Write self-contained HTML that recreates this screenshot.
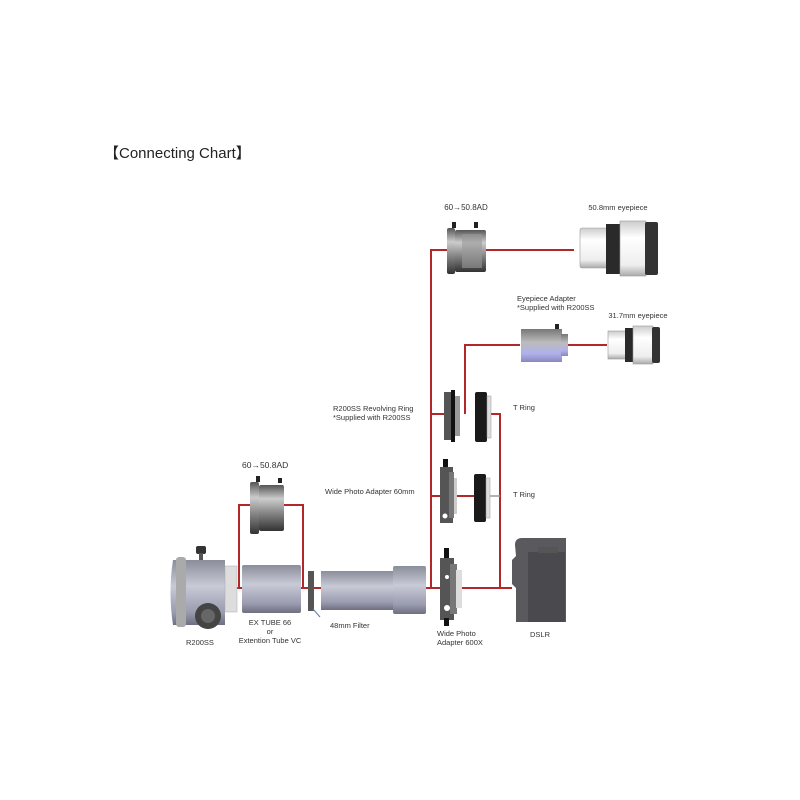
<!DOCTYPE html>
<html><head><meta charset="utf-8"><style>
html,body{margin:0;padding:0;background:#fff;width:800px;height:800px;overflow:hidden}
svg{display:block}
text{font-family:"Liberation Sans",sans-serif;fill:#333}
</style></head><body>
<svg width="800" height="800" viewBox="0 0 800 800" xmlns="http://www.w3.org/2000/svg">
<defs>
<linearGradient id="met" x1="0" y1="0" x2="0" y2="1">
<stop offset="0" stop-color="#555"/><stop offset="0.3" stop-color="#ccc"/><stop offset="0.6" stop-color="#888"/><stop offset="1" stop-color="#333"/></linearGradient>
<linearGradient id="tube" x1="0" y1="0" x2="0" y2="1">
<stop offset="0" stop-color="#8a8d9a"/><stop offset="0.4" stop-color="#c8cad6"/><stop offset="0.8" stop-color="#9a9cb0"/><stop offset="1" stop-color="#6e7080"/></linearGradient>
<linearGradient id="blu" x1="0" y1="0" x2="0" y2="1">
<stop offset="0" stop-color="#777"/><stop offset="0.4" stop-color="#bbb"/><stop offset="0.75" stop-color="#b0b0ee"/><stop offset="1" stop-color="#8888bb"/></linearGradient>
<linearGradient id="wht" x1="0" y1="0" x2="0" y2="1">
<stop offset="0" stop-color="#ccc"/><stop offset="0.3" stop-color="#fff"/><stop offset="0.8" stop-color="#eee"/><stop offset="1" stop-color="#aaa"/></linearGradient>
<linearGradient id="drk" x1="0" y1="0" x2="1" y2="0">
<stop offset="0" stop-color="#222"/><stop offset="0.5" stop-color="#555"/><stop offset="1" stop-color="#222"/></linearGradient>
</defs>
<text x="104" y="158" font-size="15" fill="#222" style="fill:#222">【Connecting Chart】</text>

<g stroke="#b0282a" stroke-width="2" fill="none">
<path d="M431 588 V250 H448"/>
<path d="M486 250 H574"/>
<path d="M431 414 H445"/>
<path d="M465 414 V345 H520"/>
<path d="M567 345 H607"/>
<path d="M490 414 H500 V588"/>
<path d="M431 496 H440"/>
<path d="M456 496 H474"/>
<path d="M239 588 V505 H251"/>
<path d="M284 505 H303 V588"/>
<path d="M232 588 H244"/>
<path d="M300 588 H308"/>
<path d="M314 588 H321"/>
<path d="M425 588 H440"/>
<path d="M462 588 H512"/>
</g>
<path d="M490 496 H500" stroke="#999" stroke-width="1.5"/>

<!-- top adapter 60->50.8 -->
<rect x="452" y="222" width="4" height="6" fill="#222"/><rect x="474" y="222" width="4" height="6" fill="#222"/>
<rect x="447" y="228" width="8" height="46" rx="2" fill="url(#met)"/>
<rect x="455" y="230" width="31" height="42" rx="2" fill="url(#met)"/>
<rect x="462" y="234" width="20" height="34" fill="#999" opacity="0.6"/>
<text x="466" y="210" font-size="8" text-anchor="middle">60→50.8AD</text>

<!-- 50.8 eyepiece -->
<rect x="580" y="228" width="29" height="40" rx="2" fill="url(#wht)" stroke="#999" stroke-width="0.6"/>
<rect x="606" y="224" width="14" height="50" fill="#2a2a2a"/>
<rect x="620" y="221" width="26" height="55" fill="url(#wht)" stroke="#999" stroke-width="0.6"/>
<rect x="645" y="222" width="13" height="53" rx="2" fill="#333"/>
<text x="618" y="210" font-size="7.5" text-anchor="middle">50.8mm eyepiece</text>

<!-- eyepiece adapter -->
<text x="517" y="301" font-size="7.5">Eyepiece Adapter</text>
<text x="517" y="310" font-size="7.5">*Supplied with R200SS</text>
<rect x="555" y="324" width="4" height="6" fill="#222"/>
<rect x="521" y="329" width="41" height="33" fill="url(#blu)"/>
<rect x="561" y="334" width="7" height="22" fill="url(#blu)"/>

<!-- 31.7 eyepiece -->
<rect x="608" y="331" width="19" height="28" fill="url(#wht)" stroke="#999" stroke-width="0.6"/>
<rect x="625" y="328" width="8" height="34" fill="#2a2a2a"/>
<rect x="633" y="326" width="20" height="38" fill="url(#wht)" stroke="#999" stroke-width="0.6"/>
<rect x="652" y="327" width="8" height="36" rx="2" fill="#333"/>
<text x="638" y="318" font-size="7.5" text-anchor="middle">31.7mm eyepiece</text>

<!-- revolving ring -->
<text x="333" y="411" font-size="7.5">R200SS Revolving Ring</text>
<text x="333" y="420" font-size="7.5">*Supplied with R200SS</text>
<rect x="444" y="392" width="10" height="48" fill="#555"/>
<rect x="451" y="390" width="4" height="52" fill="#111"/>
<rect x="455" y="396" width="5" height="40" fill="#999"/>
<rect x="475" y="392" width="12" height="50" rx="2" fill="#1a1a1a"/>
<rect x="487" y="396" width="4" height="42" fill="#ddd" stroke="#999" stroke-width="0.5"/>
<text x="513" y="410" font-size="7.5">T Ring</text>

<!-- wide photo adapter 60mm -->
<text x="325" y="494" font-size="7.5">Wide Photo Adapter 60mm</text>
<rect x="443" y="459" width="5" height="8" fill="#111"/>
<rect x="440" y="467" width="13" height="56" fill="#555"/>
<rect x="449" y="472" width="5" height="46" fill="#777"/>
<rect x="454" y="478" width="3" height="36" fill="#ccc"/>
<circle cx="445" cy="516" r="2.5" fill="#fff"/>
<rect x="474" y="474" width="12" height="48" rx="2" fill="#1a1a1a"/>
<rect x="486" y="478" width="4" height="40" fill="#ddd" stroke="#999" stroke-width="0.5"/>
<text x="513" y="497" font-size="7.5">T Ring</text>

<!-- left adapter -->
<rect x="256" y="476" width="4" height="6" fill="#222"/><rect x="278" y="478" width="4" height="5" fill="#222"/>
<rect x="250" y="482" width="9" height="52" rx="2" fill="url(#met)"/>
<rect x="259" y="485" width="25" height="46" rx="2" fill="url(#met)"/>
<text x="242" y="468" font-size="8.5">60→50.8AD</text>

<!-- R200SS -->
<rect x="196" y="546" width="10" height="8" rx="2" fill="#333"/>
<rect x="199" y="553" width="4" height="8" fill="#555"/>
<path d="M173 560 H225 V625 H173 Q168 592 173 560Z" fill="url(#tube)"/>
<rect x="176" y="557" width="10" height="70" rx="3" fill="#aaa"/>
<rect x="225" y="566" width="12" height="46" fill="#ddd" stroke="#aaa" stroke-width="0.5"/>
<circle cx="208" cy="616" r="13" fill="#444"/>
<circle cx="208" cy="616" r="7" fill="#666"/>
<text x="186" y="645" font-size="7.5">R200SS</text>

<!-- EX tube -->
<rect x="242" y="565" width="59" height="48" rx="2" fill="url(#tube)"/>
<text x="270" y="625" font-size="7.5" text-anchor="middle">EX TUBE 66</text>
<text x="270" y="634" font-size="7.5" text-anchor="middle">or</text>
<text x="270" y="643" font-size="7.5" text-anchor="middle">Extention Tube VC</text>

<!-- filter -->
<rect x="308" y="571" width="6" height="40" fill="#555"/>
<path d="M320 617 L313 609" stroke="#5b7fa8" stroke-width="1"/>
<text x="330" y="628" font-size="7.5">48mm Filter</text>

<!-- long tube -->
<rect x="321" y="571" width="74" height="39" fill="url(#tube)"/>
<rect x="393" y="566" width="33" height="48" rx="2" fill="url(#tube)"/>

<!-- wide photo adapter 600DX -->
<rect x="444" y="548" width="5" height="10" fill="#111"/>
<rect x="440" y="558" width="14" height="62" fill="#555"/>
<rect x="450" y="564" width="7" height="50" fill="#777"/>
<rect x="456" y="570" width="6" height="38" fill="#ddd"/>
<circle cx="447" cy="577" r="2" fill="#fff"/><circle cx="447" cy="608" r="3" fill="#fff"/>
<rect x="444" y="618" width="5" height="8" fill="#111"/>
<text x="437" y="636" font-size="7.5">Wide Photo</text>
<text x="437" y="645" font-size="7.5">Adapter 600X</text>

<!-- DSLR -->
<path d="M515 545 Q515 538 522 538 H566 V622 H516 V588 L512 584 V560 L516 556Z" fill="#5a5a5e"/>
<rect x="528" y="552" width="37" height="70" fill="#4a4a4e"/>
<rect x="538" y="547" width="20" height="6" fill="#555"/>
<text x="530" y="637" font-size="7.5">DSLR</text>
</svg>
</body></html>
